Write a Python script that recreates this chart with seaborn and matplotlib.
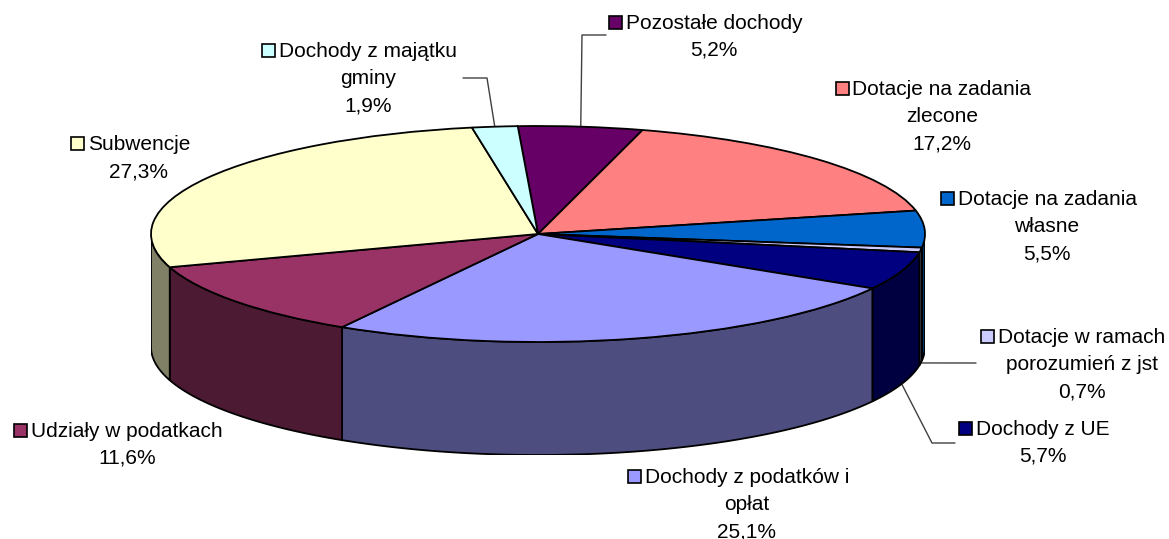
import numpy as np
import seaborn as sns
import matplotlib
matplotlib.use('Agg')
import matplotlib.pyplot as plt
from matplotlib.colors import to_rgb
from matplotlib.patches import Polygon, Rectangle

# data, clockwise from the top of the pie
categories = ["Pozostałe dochody", "Dotacje na zadania\nzlecone", "Dotacje na zadania\nwłasne",
              "Dotacje w ramach\nporozumień z jst", "Dochody z UE", "Dochody z podatków i\nopłat",
              "Udziały w podatkach", "Subwencje", "Dochody z majątku\ngminy"]
shares = [5.2, 17.2, 5.5, 0.7, 5.7, 25.1, 11.6, 27.3, 1.9]
colors = ["#660066", "#FF8080", "#0066CC", "#CCCCFF", "#000080",
          "#9999FF", "#993366", "#FFFFCC", "#CCFFFF"]

sns.set_style("white")
plt.rcParams['font.family'] = ['Liberation Sans', 'DejaVu Sans']

W, H = 1169, 539
CX, CY, RX, RY, DEPTH = 538, 234, 387, 108, 113  # pie geometry in pixels
D = DEPTH / RY

fig = plt.figure(figsize=(W / 100, H / 100), dpi=100)
lab = fig.add_axes([0, 0, 1, 1])
lab.set_xlim(0, W)
lab.set_ylim(H, 0)
lab.axis('off')

ax = fig.add_axes([(CX - RX) / W, 1 - (CY + RY + DEPTH) / H, 2 * RX / W, (2 * RY + DEPTH) / H])
wedges, _ = ax.pie(shares, colors=colors, startangle=93, counterclock=False, radius=1,
                   wedgeprops=dict(edgecolor='black', linewidth=1.3))
ax.set_aspect('auto')
ax.set_xlim(-1, 1)
ax.set_ylim(-1 - D, 1)
ax.axis('off')

# side walls of the visible front half
for w, c in zip(wedges, colors):
    for k in (-360, 0, 360):
        lo = max(w.theta1 + k, -180)
        hi = min(w.theta2 + k, 0)
        if hi > lo:
            t = np.radians(np.linspace(lo, hi, 80))
            top = np.column_stack([np.cos(t), np.sin(t)])
            bot = np.column_stack([np.cos(t), np.sin(t) - D])[::-1]
            side = np.array(to_rgb(c)) * 0.5
            ax.add_patch(Polygon(np.vstack([top, bot]), closed=True, facecolor=side,
                                 edgecolor='black', linewidth=1.3, zorder=0.5))


def anchor(w):
    m = np.radians((w.theta1 + w.theta2) / 2)
    y = np.sin(m)
    if y < 0:
        y -= D
    return CX + RX * np.cos(m), CY - RY * y


# label layout: centre x, first baseline (pixels)
label_pos = [(714, 29), (942, 95), (1047, 205), (1082, 343), (1043, 435),
             (747, 483), (127, 437), (139, 150), (368, 57)]
leaders = {0: [(582, 35), (606, 35)], 8: [(487, 78), (463, 78)],
           3: [(976, 363)], 4: [(932, 443), (955, 443)]}

fs = 15
step = 27
renderer = fig.canvas.get_renderer()
for i, (name, v, c) in enumerate(zip(categories, shares, colors)):
    x, y = label_pos[i]
    lines = name.split("\n") + [f"{v:.1f}%".replace('.', ',')]
    first = None
    for j, s in enumerate(lines):
        t = lab.text(x, y + j * step, s, ha='center', va='baseline', fontsize=fs, color='black')
        if j == 0:
            first = t
    bb = first.get_window_extent(renderer)
    sq = 13
    lab.add_patch(Rectangle((bb.x0 - 4 - sq, y - sq), sq, sq, facecolor=c,
                            edgecolor='black', linewidth=1.2))
    if i in leaders:
        pts = [anchor(wedges[i])] + leaders[i]
        lab.plot([p[0] for p in pts], [p[1] for p in pts], color='#404040', lw=1)

fig.savefig("out.png", dpi=100)
